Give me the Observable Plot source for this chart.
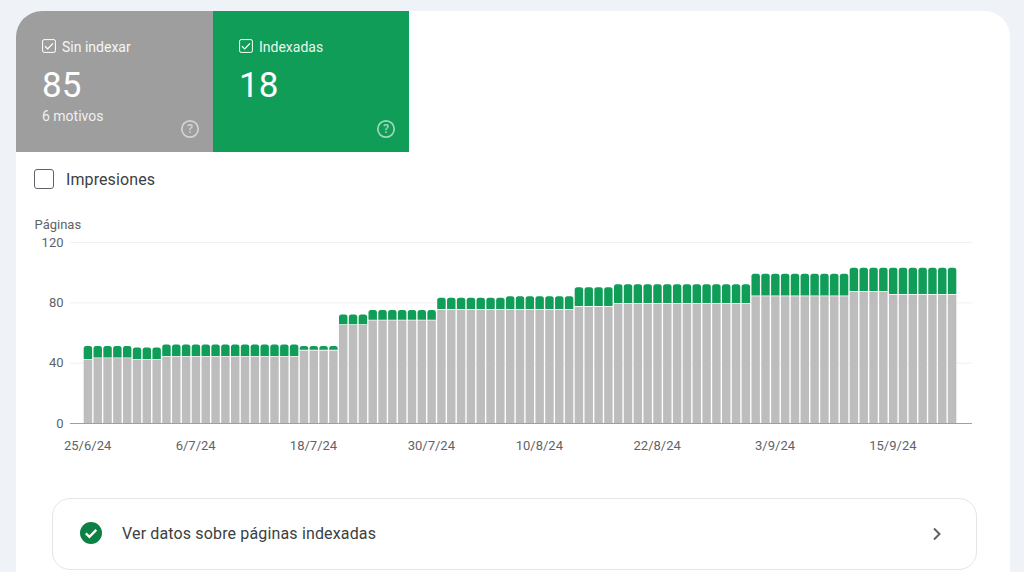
<!DOCTYPE html>
<html lang="es">
<head>
<meta charset="utf-8">
<script src="https://cdn.jsdelivr.net/npm/d3@7"></script>
<script src="https://cdn.jsdelivr.net/npm/@observablehq/plot@0.6"></script>
<style>
html,body{margin:0;padding:0;width:1024px;height:572px;overflow:hidden;background:#eff3f8;font-family:Roboto,sans-serif}
#card{position:absolute;left:16px;top:11px;width:994px;height:600px;background:#fff;border-radius:26px 26px 0 0;overflow:hidden}
.tile{position:absolute;top:0;width:197px;height:141px;color:#fff}
.tile .lab{position:absolute;left:46px;top:28px;font-size:14px;line-height:16px;opacity:.92}
.tile .num{position:absolute;left:26px;top:54px;font-size:35px;line-height:42px}
.tile .sub{position:absolute;left:26px;top:97px;font-size:14px;line-height:16px;opacity:.85}
.tile svg{position:absolute}
#imp{position:absolute;left:34px;top:169px;width:18px;height:18px;border:1.5px solid #5f6368;border-radius:3px}
#impt{position:absolute;left:66px;top:170px;font-size:16px;line-height:19px;color:#3c4043;letter-spacing:.1px}
#chart{position:absolute;left:0;top:209px}
#foot{position:absolute;left:52px;top:498px;width:923px;height:70px;border:1px solid #e3e5e8;border-radius:18px;background:#fff}
#foot .t{position:absolute;left:69px;top:25px;font-size:16px;line-height:20px;color:#3c4043;letter-spacing:.15px}
#foot svg{position:absolute}
</style>
</head>
<body>
<div id="card">
  <div class="tile" style="left:0;background:#9e9e9e">
    <svg style="left:26px;top:28px" width="14" height="14" viewBox="0 0 14 14"><rect x=".6" y=".6" width="12.8" height="12.8" rx="1.5" fill="none" stroke="#fff" stroke-width="1"/><path d="M3 7.2l2.7 2.7L11 4.4" fill="none" stroke="#fff" stroke-width="1.3"/></svg>
    <div class="lab">Sin indexar</div><div class="num">85</div><div class="sub">6 motivos</div>
    <svg style="left:164px;top:108px" width="20" height="20" viewBox="0 0 20 20"><circle cx="10" cy="10" r="8.2" fill="none" stroke="#fff" stroke-opacity=".55" stroke-width="1.7"/><text x="10" y="14.4" text-anchor="middle" font-size="12.5" font-weight="500" fill="#fff" fill-opacity=".55">?</text></svg>
  </div>
  <div class="tile" style="left:197px;background:#0f9d58;width:196px">
    <svg style="left:26px;top:28px" width="14" height="14" viewBox="0 0 14 14"><rect x=".6" y=".6" width="12.8" height="12.8" rx="1.5" fill="none" stroke="#fff" stroke-width="1"/><path d="M3 7.2l2.7 2.7L11 4.4" fill="none" stroke="#fff" stroke-width="1.3"/></svg>
    <div class="lab">Indexadas</div><div class="num">18</div>
    <svg style="left:163px;top:108px" width="20" height="20" viewBox="0 0 20 20"><circle cx="10" cy="10" r="8.2" fill="none" stroke="#fff" stroke-opacity=".6" stroke-width="1.7"/><text x="10" y="14.4" text-anchor="middle" font-size="12.5" font-weight="500" fill="#fff" fill-opacity=".6">?</text></svg>
  </div>
</div>
<div id="imp"></div><div id="impt">Impresiones</div>
<div id="chart"></div>
<div id="foot">
  <svg style="left:26px;top:22px" width="24" height="24" viewBox="0 0 24 24"><circle cx="12" cy="12" r="11" fill="#0d8044"/><path d="M6.8 12.4l3.6 3.5 6.9-7" fill="none" stroke="#fff" stroke-width="2.3"/></svg>
  <div class="t">Ver datos sobre páginas indexadas</div>
  <svg style="left:877px;top:27px" width="14" height="16" viewBox="0 0 14 16"><path d="M4 2.5L9.5 8 4 13.5" fill="none" stroke="#5f6368" stroke-width="2"/></svg>
</div>
<script>
const dates = [
"25/6/24","26/6/24","27/6/24","28/6/24","29/6/24","30/6/24",
"1/7/24","2/7/24","3/7/24","4/7/24","5/7/24","6/7/24","7/7/24","8/7/24","9/7/24","10/7/24",
"11/7/24","12/7/24","13/7/24","14/7/24","15/7/24","16/7/24","17/7/24","18/7/24","19/7/24","20/7/24",
"21/7/24","22/7/24","23/7/24","24/7/24","25/7/24","26/7/24","27/7/24","28/7/24","29/7/24","30/7/24","31/7/24",
"1/8/24","2/8/24","3/8/24","4/8/24","5/8/24","6/8/24","7/8/24","8/8/24","9/8/24","10/8/24",
"11/8/24","12/8/24","13/8/24","14/8/24","15/8/24","16/8/24","17/8/24","18/8/24","19/8/24","20/8/24",
"21/8/24","22/8/24","23/8/24","24/8/24","25/8/24","26/8/24","27/8/24","28/8/24","29/8/24","30/8/24","31/8/24",
"1/9/24","2/9/24","3/9/24","4/9/24","5/9/24","6/9/24","7/9/24","8/9/24","9/9/24","10/9/24",
"11/9/24","12/9/24","13/9/24","14/9/24","15/9/24","16/9/24","17/9/24","18/9/24","19/9/24","20/9/24","21/9/24"];
const sinIndexar = [
42,43,43,43,43,42,42,42,44,44,44,44,44,44,44,44,44,44,44,44,44,44,
48,48,48,48,65,65,65,68,68,68,68,68,68,68,
75,75,75,75,75,75,75,75,75,75,75,75,75,75,
77,77,77,77,
79,79,79,79,79,79,79,79,79,79,79,79,79,79,
84,84,84,84,84,84,84,84,84,84,
87,87,87,87,85,85,85,85,85,85,85];
const indexadas = [
9,8,8,8,8,8,8,8,8,8,8,8,8,8,8,8,8,8,8,8,8,8,
3,3,3,3,7,7,7,7,7,7,7,7,7,7,
8,8,8,8,8,8,8,9,9,9,9,9,9,9,
13,13,13,13,
13,13,13,13,13,13,13,13,13,13,13,13,13,13,
15,15,15,15,15,15,15,15,15,15,
16,16,16,16,18,18,18,18,18,18,18];
const yTicks = [0,40,80,120];
const xTicks = ["25/6/24","6/7/24","18/7/24","30/7/24","10/8/24","22/8/24","3/9/24","15/9/24"];
const yTitle = "Páginas";
const rows = dates.map((d,i)=>({date:d,sin:sinIndexar[i],idx:indexadas[i],total:sinIndexar[i]+indexadas[i]}));
const plot = Plot.plot({
  width:1024,height:250,marginLeft:70,marginRight:52,marginTop:33,marginBottom:36,
  style:{fontFamily:"Roboto, sans-serif",fontSize:"13px",color:"#5f6368",background:"transparent"},
  x:{type:"band",domain:dates,range:[83,957],paddingInner:0.14,paddingOuter:0.07,round:false},
  y:{domain:[0,120]},
  marks:[
    Plot.ruleY(yTicks.slice(1),{stroke:"#eef0f2",strokeWidth:1}),
    Plot.barY(rows,{x:"date",y1:0,y2:"sin",fill:"#bdbdbd"}),
    Plot.barY(rows,{x:"date",y1:d=>d.sin+0.5,y2:"total",fill:"#0f9d58",ry1:2.5}),
    Plot.ruleY([0],{stroke:"#9aa0a6",strokeWidth:1.2}),
    Plot.axisY({ticks:yTicks,tickSize:0,tickPadding:7,label:null,fontSize:13}),
    Plot.axisX({ticks:xTicks,tickSize:0,tickPadding:17,label:null,fontSize:13,dx:-0.8}),
    Plot.text([yTitle],{text:d=>d,frameAnchor:"top-left",textAnchor:"start",lineAnchor:"middle",dx:-36,dy:-18,fill:"#5f6368",fontSize:13})
  ]
});
document.getElementById("chart").appendChild(plot);
</script>
</body>
</html>
